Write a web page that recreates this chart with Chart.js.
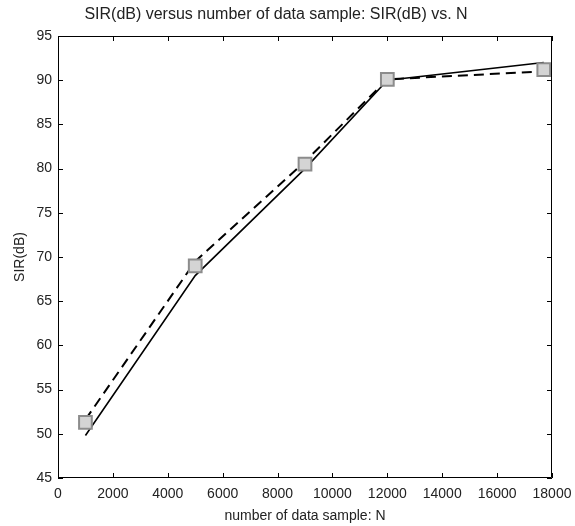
<!DOCTYPE html>
<html>
<head>
<meta charset="UTF-8">
<title>SIR vs N</title>
<script src="https://cdn.jsdelivr.net/npm/chart.js"></script>
<style>
    body { margin: 0; background: #fff; }
    #wrap { width: 575px; height: 526px; }
</style>
</head>
<body>
<div id="wrap"><canvas id="grafico"></canvas></div>
<script>
    // valores
    var amostrasN = [1000, 5000, 9000, 12000, 17700];
    var sirSolida = [49.8, 67.9, 80.0, 90.0, 92.0];
    var sirTracejada = [51.6, 69.5, 80.8, 90.1, 91.0];
    var sirMarcadores = [51.3, 69.0, 80.5, 90.1, 91.2];
    var ticksX = [0, 2000, 4000, 6000, 8000, 10000, 12000, 14000, 16000, 18000];
    var ticksY = [45, 50, 55, 60, 65, 70, 75, 80, 85, 90, 95];

    function pontos(ys) {
        var lista = [];
        for (let i = 0; i < amostrasN.length; i++) {
            lista.push({ x: amostrasN[i], y: ys[i] });
        }
        return lista;
    }

    // caixa estilo matlab: borda em cima/direita e ticks para dentro
    var caixaPlugin = {
        id: 'caixa',
        afterDatasetsDraw(chart) {
            var ctx = chart.ctx;
            var a = chart.chartArea;
            var sx = chart.scales.x, sy = chart.scales.y;
            var t = 5;
            ctx.save();
            ctx.strokeStyle = '#000';
            ctx.lineWidth = 1;
            ctx.beginPath();
            ctx.rect(a.left + 0.5, a.top + 0.5, a.right - a.left - 1, a.bottom - a.top - 1);
            ticksX.forEach(v => {
                var px = Math.round(sx.getPixelForValue(v)) + 0.5;
                ctx.moveTo(px, a.bottom); ctx.lineTo(px, a.bottom - t);
                ctx.moveTo(px, a.top); ctx.lineTo(px, a.top + t);
            });
            ticksY.forEach(v => {
                var py = Math.round(sy.getPixelForValue(v)) + 0.5;
                ctx.moveTo(a.left, py); ctx.lineTo(a.left + t, py);
                ctx.moveTo(a.right, py); ctx.lineTo(a.right - t, py);
            });
            ctx.stroke();
            ctx.restore();
        }
    };

    var fonte = { family: 'Liberation Sans, Arial, sans-serif', size: 14 };

    new Chart(document.getElementById('grafico'), {
        type: 'scatter',
        data: {
            datasets: [{
                label: 'solida',
                data: pontos(sirSolida),
                showLine: true,
                borderColor: '#000',
                borderWidth: 1.6,
                pointRadius: 0,
                order: 3
            }, {
                label: 'tracejada',
                data: pontos(sirTracejada),
                showLine: true,
                borderColor: '#000',
                borderWidth: 2,
                borderDash: [10, 6],
                pointRadius: 0,
                order: 2
            }, {
                label: 'marcadores',
                data: pontos(sirMarcadores),
                showLine: false,
                pointStyle: 'rect',
                pointRadius: 9,
                pointBackgroundColor: '#d4d4d4',
                pointBorderColor: '#8c8c8c',
                pointBorderWidth: 2,
                order: 1
            }]
        },
        options: {
            responsive: true,
            maintainAspectRatio: false,
            animation: false,
            layout: { padding: { left: 0, right: 23, top: 0, bottom: 0 } },
            plugins: {
                legend: { display: false },
                tooltip: { enabled: false },
                title: {
                    display: true,
                    text: 'SIR(dB) versus number of data sample: SIR(dB) vs. N',
                    color: '#222',
                    font: { family: fonte.family, size: 16, weight: 'normal' },
                    padding: { top: 5, bottom: 11.8 }
                }
            },
            scales: {
                x: {
                    type: 'linear',
                    min: 0,
                    max: 18000,
                    afterBuildTicks: s => { s.ticks = ticksX.map(v => ({ value: v })); },
                    afterFit: s => { s.height = 48; s.paddingLeft = 0; s.paddingRight = 0; },
                    grid: { display: false, drawTicks: false },
                    border: { display: false },
                    ticks: { color: '#222', font: fonte, padding: 8, maxRotation: 0, callback: v => String(v) },
                    title: {
                        display: true,
                        text: 'number of data sample: N',
                        color: '#222',
                        font: fonte,
                        padding: { top: 0, bottom: 1 }
                    }
                },
                y: {
                    min: 45,
                    max: 95,
                    afterBuildTicks: s => { s.ticks = ticksY.map(v => ({ value: v })); },
                    afterFit: s => { s.width = 58; s.paddingTop = 0; s.paddingBottom = 0; },
                    grid: { display: false, drawTicks: false },
                    border: { display: false },
                    ticks: { color: '#222', font: fonte, padding: 6, callback: v => String(v) },
                    title: {
                        display: true,
                        text: 'SIR(dB)',
                        color: '#222',
                        font: fonte,
                        padding: { top: 12, bottom: 0 }
                    }
                }
            }
        },
        plugins: [caixaPlugin]
    });
</script>
</body>
</html>
